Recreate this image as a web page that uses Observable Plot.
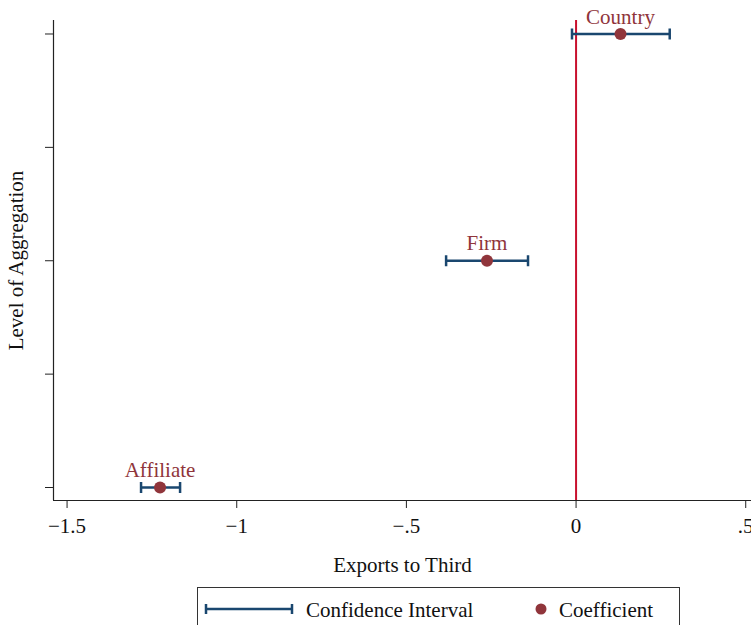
<!DOCTYPE html>
<html>
<head>
<meta charset="utf-8">
<script src="https://cdn.jsdelivr.net/npm/d3@7"></script>
<script src="https://cdn.jsdelivr.net/npm/@observablehq/plot@0.6"></script>
<style>
  html, body { margin: 0; padding: 0; background: #fff; overflow: hidden; }
  #wrap { position: relative; width: 751px; height: 625px; font-family: 'Liberation Serif'; }
  #chart svg { display: block; }
  #legend { position: absolute; left: 197px; top: 587px; width: 483px; height: 50px; border: 1px solid #333; box-sizing: border-box; background: #fff; }
</style>
</head>
<body>
<div id="wrap">
  <div id="chart"></div>
  <div id="legend"></div>
</div>
<script>
const categories = ["Affiliate", "Firm", "Country"];
const positions = [1, 2, 3];
const coef = [-1.226, -0.2625, 0.131];
const lo = [-1.282, -0.383, -0.012];
const hi = [-1.167, -0.1416, 0.276];
const xTicks = [-1.5, -1, -0.5, 0, 0.5];
const xTickLabels = ["\u22121.5", "\u22121", "\u2212.5", "0", ".5"];
const yTicks = [1, 1.5, 2, 2.5, 3];
const xDomain = [-1.54, 0.517];
const yDomain = [0.9427, 3.0595];
const legendLabels = ["Confidence Interval", "Coefficient"];

const navy = "#1a476f";
const maroon = "#90353b";
const red = "#c8102e";
const font = "Liberation Serif";

const data = categories.map((c, i) => ({name: c, y: positions[i], coef: coef[i], lo: lo[i], hi: hi[i]}));

const capSymbol = {
  draw(ctx, size) {
    const r = Math.sqrt(size / Math.PI);
    ctx.moveTo(0, -r);
    ctx.lineTo(0, r);
  }
};

const chart = Plot.plot({
  width: 751,
  height: 585,
  marginLeft: 53,
  marginRight: 0,
  marginTop: 20,
  marginBottom: 85,
  style: {fontFamily: font, fontSize: "21px", color: "#111", background: "transparent"},
  x: {domain: xDomain},
  y: {domain: yDomain},
  marks: [
    Plot.ruleY([yDomain[0]], {stroke: "#222", strokeWidth: 1.2}),
    Plot.ruleX([xDomain[0]], {stroke: "#222", strokeWidth: 1.2}),
    Plot.axisX({
      ticks: xTicks,
      tickFormat: (d) => xTickLabels[xTicks.indexOf(d)],
      tickSize: 8,
      tickPadding: 10,
      fontSize: 21,
      fontFamily: font,
      stroke: "#222",
      label: "Exports to Third",
      labelAnchor: "center",
      labelArrow: "none",
      labelOffset: 71
    }),
    Plot.axisY({
      ticks: yTicks,
      tickFormat: () => "",
      tickSize: 8,
      stroke: "#222",
      label: "Level of Aggregation",
      labelAnchor: "center",
      labelArrow: "none",
      labelOffset: 45,
      fontSize: 21,
      fontFamily: font
    }),
    Plot.ruleX([0], {stroke: red, strokeWidth: 2}),
    Plot.link(data, {x1: "lo", x2: "hi", y1: "y", y2: "y", stroke: navy, strokeWidth: 2.5}),
    Plot.dot(data, {x: "lo", y: "y", symbol: capSymbol, r: 5.5, stroke: navy, strokeWidth: 2.5, fill: "none"}),
    Plot.dot(data, {x: "hi", y: "y", symbol: capSymbol, r: 5.5, stroke: navy, strokeWidth: 2.5, fill: "none"}),
    Plot.dot(data, {x: "coef", y: "y", r: 6, fill: maroon, stroke: "none"}),
    Plot.text(data, {x: "coef", y: "y", text: "name", dy: -17, fill: maroon, fontSize: 21, fontFamily: font})
  ]
});
document.getElementById("chart").appendChild(chart);

// legend
const lg = d3.select("#legend").append("svg").attr("width", 483).attr("height", 50);
lg.append("line").attr("x1", 8).attr("x2", 94).attr("y1", 21).attr("y2", 21).attr("stroke", navy).attr("stroke-width", 2.5);
lg.append("line").attr("x1", 8).attr("x2", 8).attr("y1", 16).attr("y2", 26).attr("stroke", navy).attr("stroke-width", 2.5);
lg.append("line").attr("x1", 94).attr("x2", 94).attr("y1", 16).attr("y2", 26).attr("stroke", navy).attr("stroke-width", 2.5);
lg.append("text").attr("x", 108).attr("y", 29).attr("font-family", font).attr("font-size", 21).attr("fill", "#111").text(legendLabels[0]);
lg.append("circle").attr("cx", 343).attr("cy", 21).attr("r", 5.5).attr("fill", maroon);
lg.append("text").attr("x", 361).attr("y", 29).attr("font-family", font).attr("font-size", 21).attr("fill", "#111").text(legendLabels[1]);
</script>
</body>
</html>
